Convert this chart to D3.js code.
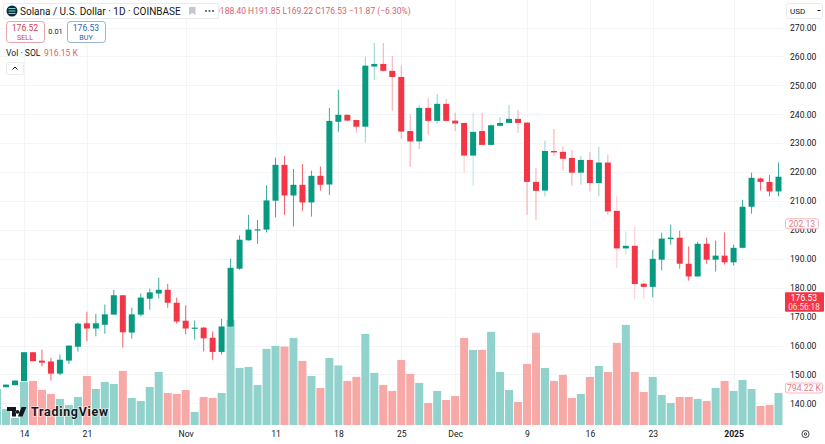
<!DOCTYPE html>
<html>
<head>
<meta charset="utf-8">
<script src="https://cdn.jsdelivr.net/npm/d3@7"></script>
<style>
  html, body { margin: 0; padding: 0; background: #fff; overflow: hidden; }
  svg { display: block; font-family: Roboto, "Liberation Sans", sans-serif; }
  .axis path, .axis line { display: none; }
  .axis text { fill: #131722; font-size: 8.6px; font-family: Roboto, sans-serif; }
</style>
</head>
<body>
<svg id="chart" width="825" height="444"></svg>
<script>
// Daily SOL/USD from Oct 11 2024 to Jan 6 2025
const opens = [143.0,145.6,146.3,147.7,157.7,154.8,154.5,150.3,154.8,159.6,167.7,165.9,167.2,170.7,177.4,164.5,170.7,176.2,178.0,179.3,174.8,
  168.6,165.8,166.2,162.7,157.8,166.6,186.6,196.4,199.8,200.1,210.1,222.5,211.9,215.6,209.5,218.7,215.7,237.4,239.8,238.0,235.7,256.5,257.4,255.0,252.9,234.2,230.6,242.2,237.7,243.6,
  237.8,237.0,225.7,234.2,229.4,236.0,237.0,238.4,237.1,216.6,213.6,227.3,227.0,224.9,219.8,224.2,216.2,223.3,206.6,193.6,194.5,181.4,180.3,189.7,196.8,197.3,188.3,183.9,195.2,189.7,191.1,
  188.8,193.8,208.0,217.8,216.6,213.3];
const highs = [144.0,146.5,147.9,157.7,157.7,158.6,155.8,156.9,160.0,168.0,171.7,171.0,174.2,179.3,177.4,173.1,178.0,179.7,183.5,181.4,176.6,
  173.9,168.7,166.5,164.9,169.3,190.0,198.1,205.2,203.5,215.4,225.0,225.6,221.1,222.8,220.5,221.9,242.2,248.4,240.0,238.2,259.9,264.7,264.6,260.2,256.8,239.8,243.2,245.6,247.0,245.3,
  240.5,237.1,240.5,240.5,236.5,239.0,243.2,241.5,237.4,221.5,230.9,234.9,228.8,227.7,225.6,227.0,228.8,226.0,211.6,199.5,201.2,182.5,193.1,199.0,201.8,199.7,194.3,195.9,197.3,196.3,199.1,
  194.9,210.4,219.8,218.1,219.0,223.3];
const lows = [142.0,145.6,146.3,147.7,154.6,152.8,147.9,149.7,153.7,157.9,161.5,163.2,164.1,170.7,159.3,162.4,170.1,172.4,176.3,173.1,167.6,
  163.9,162.1,158.0,155.1,156.9,166.5,186.2,196.3,195.2,199.1,204.3,205.2,201.2,206.6,204.6,213.6,212.1,234.0,237.5,233.6,230.1,251.9,254.7,241.2,231.5,221.8,228.0,232.9,236.7,237.7,
  234.2,219.8,215.3,229.4,229.4,235.8,237.0,233.6,205.2,203.5,211.6,225.6,220.5,215.3,215.6,213.3,211.6,205.2,186.9,191.4,175.9,176.0,176.7,186.0,194.9,186.6,182.5,183.9,188.3,185.6,188.0,
  187.7,193.6,205.6,213.6,211.6,211.6];
const closes = [143.5,146.5,147.9,157.7,154.6,154.1,150.3,155.1,160.0,167.6,165.9,167.7,170.8,177.4,164.6,170.8,176.6,178.4,179.3,174.8,168.3,
  165.9,166.2,162.5,157.8,166.6,186.9,196.6,200.1,200.2,210.2,222.5,211.9,215.6,209.5,218.7,215.6,237.7,239.8,237.8,235.7,256.8,257.4,255.0,252.9,234.0,230.6,242.2,237.7,243.6,237.7,
  236.8,225.7,233.9,229.4,236.2,237.0,238.4,237.0,216.6,213.5,227.3,226.8,224.6,219.8,224.2,216.2,223.3,206.4,193.6,194.5,181.3,180.3,190.0,197.0,197.3,188.3,183.9,195.2,189.7,191.1,188.8,
  193.8,208.0,218.0,216.6,213.3,218.4];
// volume in thousands of SOL
const volumes = [774,344,150,925,946,752,667,559,430,602,1053,774,925,881,1161,580,516,817,1139,688,667,
  752,280,602,580,688,2257,1225,1247,860,1634,1698,1683,1870,1376,1053,795,1440,1279,946,1032,1956,1118,860,731,1397,1096,903,473,731,537,
  623,1870,1612,1612,1999,1139,752,494,1311,1978,1225,946,1075,580,666,1032,1268,1139,1763,2150,1139,709,1032,645,473,602,602,559,516,795,946,
  731,967,774,408,430,688];
const priceTicks = [270,260,250,240,230,220,210,200,190,180,170,160,150,140];
const dateTicks = ["2024-10-14","2024-10-21","2024-11-01","2024-11-11","2024-11-18","2024-11-25","2024-12-01","2024-12-09","2024-12-16","2024-12-23","2025-01-01"];
const dateLabels = ["14","21","Nov","11","18","25","Dec","9","16","23","2025"];

const UP = "#089981", DOWN = "#f23645";
const VOL_UP = "#92d2cc", VOL_DOWN = "#f7a9a7";
const TEXT = "#131722";

const dates = d3.utcDay.range(new Date(Date.UTC(2024, 9, 11)), new Date(Date.UTC(2025, 0, 7)));
const tickDates = dateTicks.map(d => new Date(d + "T00:00:00Z"));
const candles = dates.map((date, i) => ({
    date, open: opens[i], high: highs[i], low: lows[i], close: closes[i], volume: volumes[i]
}));

const svg = d3.select("#chart");
const plotRight = 783;

const x = d3.scaleUtc()
    .domain([new Date(Date.UTC(2024, 9, 14)), new Date(Date.UTC(2025, 0, 6))])
    .range([24, 778.5]);
const y = d3.scaleLinear().domain([140, 270]).range([403.4, 27.5]);
const yVol = d3.scaleLinear().domain([0, 794.22]).range([425, 388]);

// The wicks fade in the middle of the screenshot
function wickOpacity(date) {
    const day = date.toISOString().slice(0, 10);
    if ((day >= "2024-12-02" && day <= "2024-12-03") || (day >= "2024-12-19" && day <= "2024-12-22")) return 0.35;
    if (day >= "2024-11-19" && day <= "2024-12-22") return 0.55;
    return 1;
}

svg.append("defs").append("clipPath").attr("id", "plot")
    .append("rect").attr("x", 0).attr("y", 0).attr("width", plotRight).attr("height", 426);

// Grid
const grid = svg.append("g").attr("stroke", "#f2f4f8").attr("stroke-width", 1);
grid.selectAll("line.h").data(priceTicks).enter().append("line")
    .attr("x1", 0).attr("x2", plotRight)
    .attr("y1", d => Math.round(y(d)) + 0.5).attr("y2", d => Math.round(y(d)) + 0.5);
grid.selectAll("line.v").data(tickDates).enter().append("line")
    .attr("x1", d => Math.round(x(d)) + 0.5).attr("x2", d => Math.round(x(d)) + 0.5)
    .attr("y1", 0).attr("y2", 426);

const plot = svg.append("g").attr("clip-path", "url(#plot)");

// Volume bars go under the candles
plot.append("g").selectAll("rect").data(candles).enter().append("rect")
    .attr("x", d => x(d.date) - 4)
    .attr("width", 8)
    .attr("y", d => yVol(d.volume))
    .attr("height", d => yVol(0) - yVol(d.volume))
    .attr("fill", d => d.close >= d.open ? VOL_UP : VOL_DOWN);

const candle = plot.append("g").selectAll("g").data(candles).enter().append("g");
candle.append("line")
    .attr("x1", d => x(d.date)).attr("x2", d => x(d.date))
    .attr("y1", d => y(d.high)).attr("y2", d => y(d.low))
    .attr("stroke", d => d.close >= d.open ? UP : DOWN)
    .attr("stroke-opacity", d => wickOpacity(d.date))
    .attr("stroke-width", 0.8);
candle.append("rect")
    .attr("x", d => x(d.date) - 3)
    .attr("width", 6)
    .attr("y", d => y(Math.max(d.open, d.close)))
    .attr("height", d => Math.max(1, Math.abs(y(d.open) - y(d.close))))
    .attr("fill", d => d.close >= d.open ? UP : DOWN);

// Axes
svg.append("g").attr("class", "axis")
    .attr("transform", "translate(783,0)")
    .call(d3.axisRight(y).tickValues(priceTicks).tickFormat(d3.format(".2f")).tickSize(0).tickPadding(7));
const xAxis = svg.append("g").attr("class", "axis")
    .attr("transform", "translate(0,428)")
    .call(d3.axisBottom(x).tickValues(tickDates).tickFormat((d, i) => dateLabels[i]).tickSize(0).tickPadding(3));
xAxis.selectAll("text").filter((d, i) => dateLabels[i] === "2025").style("font-weight", "bold");

// Price scale labels
function outlineLabel(yPos, label, width) {
    svg.append("rect").attr("x", 785.5).attr("y", yPos - 5).attr("width", width).attr("height", 10).attr("rx", 2)
        .attr("fill", "#fff").attr("stroke", "#f5a5ab").attr("stroke-width", 0.8);
    svg.append("text").attr("x", 785.5 + width / 2).attr("y", yPos + 3).attr("text-anchor", "middle")
        .attr("font-size", 8.6).attr("fill", "#e57a84").text(label);
}
outlineLabel(y(202.13), "202.13", 33);
outlineLabel(yVol(794.22), "794.22 K", 37);

svg.append("rect").attr("x", 785).attr("y", y(176.53) - 5.5).attr("width", 39).attr("height", 19.5).attr("rx", 1).attr("fill", DOWN);
svg.append("text").attr("x", 804).attr("y", y(176.53) + 3).attr("text-anchor", "middle").attr("font-size", 8.6).attr("fill", "#fff").text("176.53");
svg.append("text").attr("x", 804).attr("y", y(176.53) + 12).attr("text-anchor", "middle").attr("font-size", 8.2).attr("fill", "#fff").attr("opacity", 0.85).text("06:56:18");

// USD selector and settings icon
svg.append("rect").attr("x", 786.5).attr("y", 3.5).attr("width", 36).attr("height", 15).attr("rx", 2)
    .attr("fill", "#fff").attr("stroke", "#e0e3eb").attr("stroke-width", 0.8);
svg.append("text").attr("x", 790).attr("y", 14).attr("font-size", 8).attr("fill", TEXT).text("USD");
svg.append("path").attr("d", "M817.5 10.5h3").attr("stroke", TEXT).attr("stroke-width", 1);
svg.append("circle").attr("cx", 805.5).attr("cy", 434).attr("r", 3.6).attr("fill", "none").attr("stroke", TEXT).attr("stroke-width", 0.8);
svg.append("circle").attr("cx", 805.5).attr("cy", 434).attr("r", 1.2).attr("fill", "none").attr("stroke", TEXT).attr("stroke-width", 0.8);

// Legend, top left
svg.append("text").attr("x", 214).attr("y", 14).attr("font-size", 8.5).attr("fill", "#d9616e")
    .text("O188.40 H191.85 L169.22 C176.53 \u221211.87 (\u22126.30%)");
svg.append("rect").attr("x", 3.5).attr("y", 3.5).attr("width", 215).attr("height", 15).attr("rx", 2)
    .attr("fill", "#fff").attr("stroke", "#e8eaef").attr("stroke-width", 1);
svg.append("circle").attr("cx", 12).attr("cy", 11).attr("r", 5.5).attr("fill", "#0b2a3a");
svg.append("path").attr("d", "M8.5 8.5h7M8.5 11h7M8.5 13.5h7").attr("stroke", "#6fd8d0").attr("stroke-width", 1);
svg.append("text").attr("x", 20).attr("y", 15).attr("font-size", 10).attr("fill", TEXT)
    .text("Solana / U.S. Dollar \u00b7 1D \u00b7 COINBASE");
svg.append("path").attr("d", "M189 7h6.5v8l-3.2-2-3.3 2z").attr("fill", "#c4c7cf");
svg.selectAll("circle.dot").data([206, 209.5, 213]).enter().append("circle")
    .attr("cx", d => d).attr("cy", 11).attr("r", 1).attr("fill", "#4a4e5a");

function orderBox(xPos, price, side, color) {
    svg.append("rect").attr("x", xPos + 0.5).attr("y", 21.5).attr("width", 38).attr("height", 21).attr("rx", 3)
        .attr("fill", "#fff").attr("stroke", color).attr("stroke-width", 0.8).attr("stroke-opacity", 0.6);
    svg.append("text").attr("x", xPos + 19).attr("y", 31).attr("text-anchor", "middle")
        .attr("font-size", 8.6).attr("fill", color).text(price);
    svg.append("text").attr("x", xPos + 19).attr("y", 39.5).attr("text-anchor", "middle")
        .attr("font-size", 7.2).attr("fill", color).text(side);
}
orderBox(6, "176.52", "SELL", "#cf3f4f");
orderBox(67, "176.53", "BUY", "#2f62a8");
svg.append("text").attr("x", 55.5).attr("y", 34).attr("text-anchor", "middle").attr("font-size", 7.4).attr("fill", TEXT).text("0.01");

svg.append("text").attr("x", 6).attr("y", 56).attr("font-size", 8.6).attr("fill", TEXT).text("Vol \u00b7 SOL");
svg.append("text").attr("x", 44).attr("y", 56).attr("font-size", 8.6).attr("fill", "#d9616e").text("916.15 K");
svg.append("rect").attr("x", 6.5).attr("y", 62.5).attr("width", 17).attr("height", 12).attr("rx", 2)
    .attr("fill", "#fff").attr("stroke", "#e8eaef").attr("stroke-width", 1);
svg.append("path").attr("d", "M12.5 69.5l2.5-2.5 2.5 2.5").attr("fill", "none").attr("stroke", TEXT).attr("stroke-width", 1);

// TradingView mark
svg.append("path").attr("fill", "#131722")
    .attr("d", "M7 407h9v9.5h-4v-5.5h-5zM17.5 410a1.9 1.9 0 1 0 0.01 0zM21.5 407h5l-4 9.5h-4.6z");
svg.append("text").attr("x", 31).attr("y", 416).attr("font-size", 12.4).attr("font-weight", 700)
    .attr("fill", "#131722").attr("stroke", "#fff").attr("stroke-width", 1.5).attr("stroke-opacity", 0.55)
    .attr("paint-order", "stroke").attr("textLength", 77).text("TradingView");
</script>
</body>
</html>
